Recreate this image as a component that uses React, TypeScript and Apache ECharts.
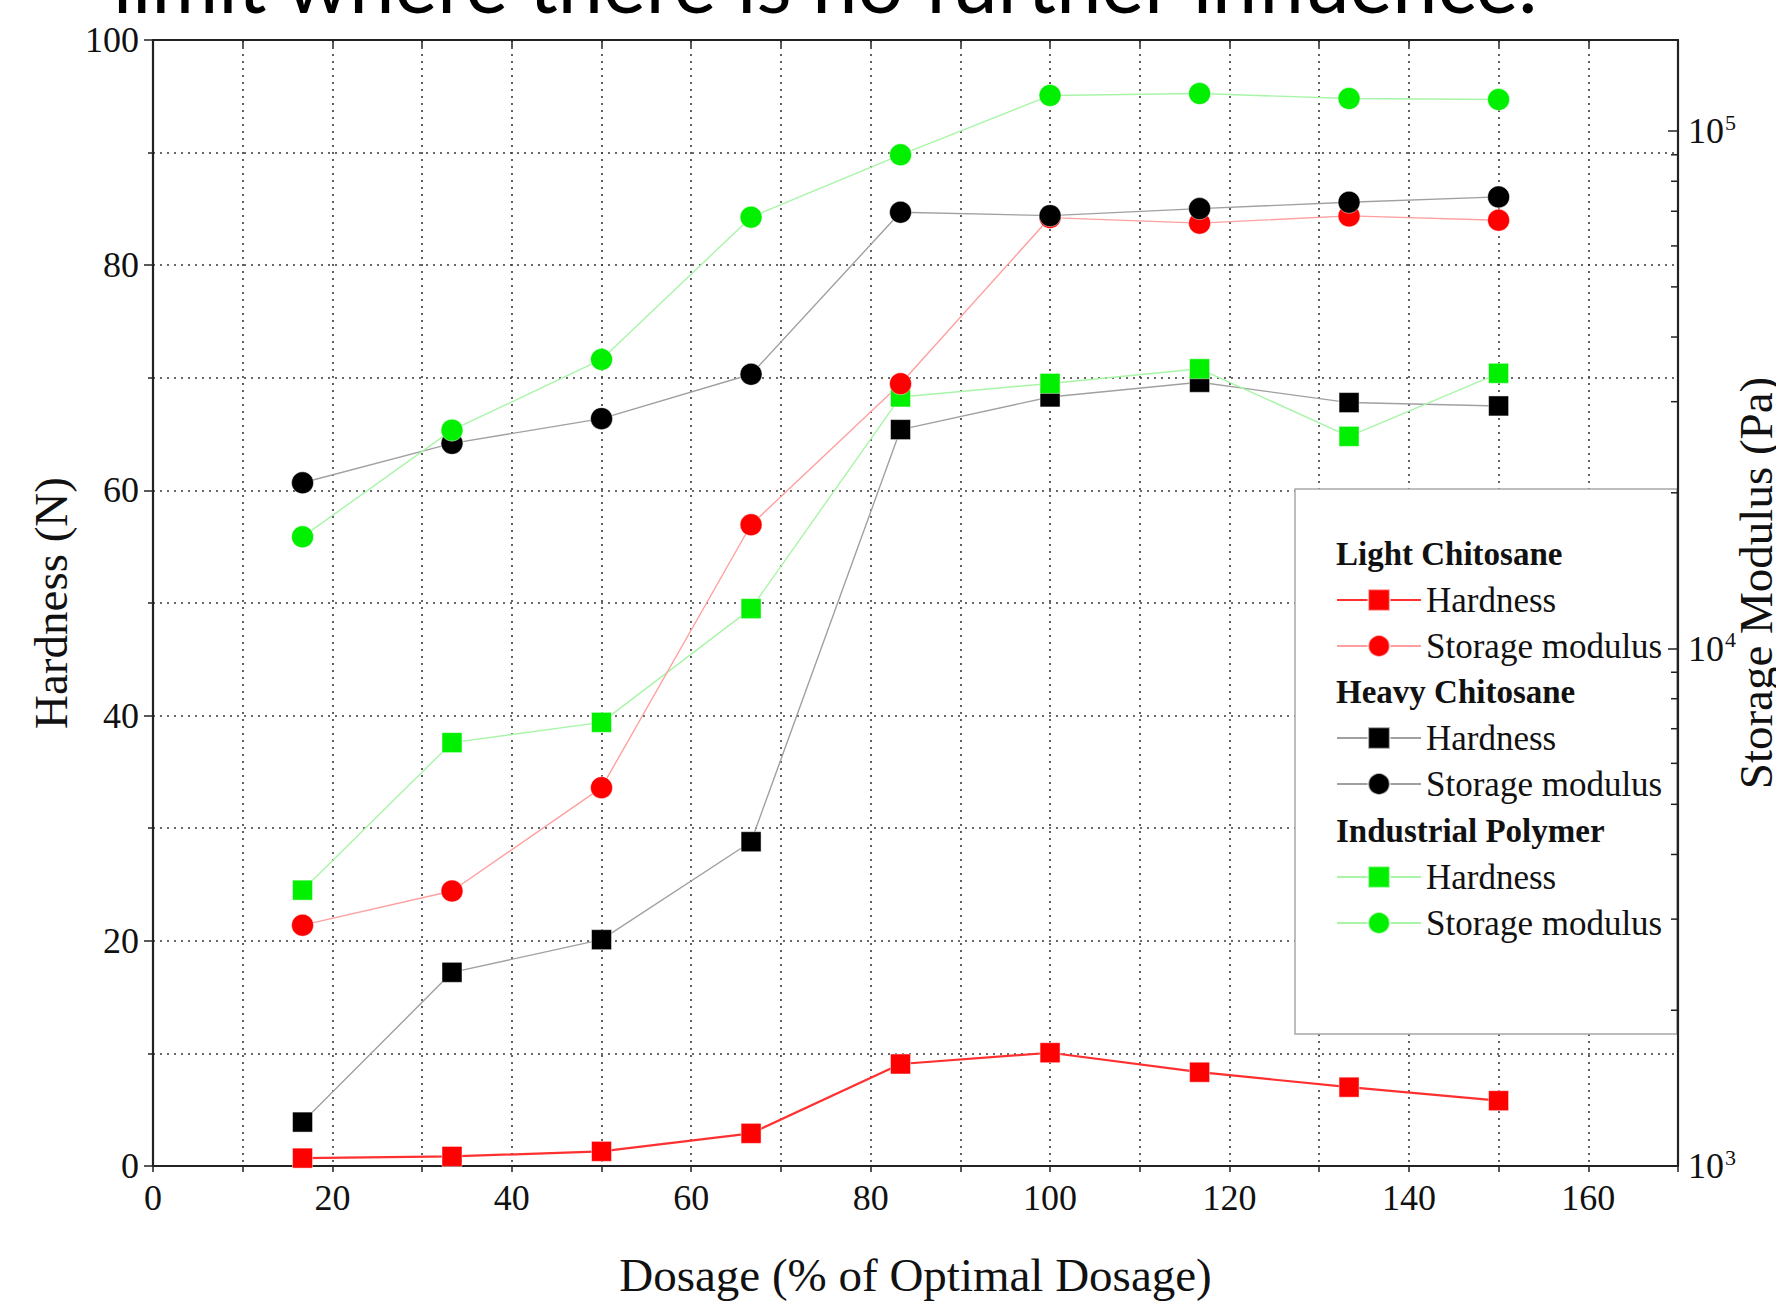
import React, { useEffect, useRef } from 'react';
import * as echarts from 'echarts';

// Dosage (% of optimal dosage)
const dosage = [16.67, 33.33, 50, 66.67, 83.33, 100, 116.67, 133.33, 150];

// Hardness (N) – left axis
const lightHardness = [0.7, 0.85, 1.3, 2.9, 9.06, 10.06, 8.33, 7.0, 5.8];
const heavyHardness = [3.9, 17.2, 20.1, 28.8, 65.4, 68.3, 69.6, 67.8, 67.5];
const industrialHardness = [24.5, 37.6, 39.4, 49.5, 68.3, 69.5, 70.8, 64.8, 70.4];

// Storage modulus (Pa) – right log axis
const lightStorage = [2920, 3400, 5385, 17350, 32500, 68060, 66390, 68570, 67280];
const heavyStorage = [20910, 24920, 27820, 33890, 69700, 68650, 70830, 72880, 74620];
const industrialStorage = [16440, 26430, 36200, 68190, 90000, 117200, 118200, 115600, 115100];

// Axis ranges and ticks
const xMin = 0;
const xMax = 170;
const hardnessMin = 0;
const hardnessMax = 100;
const storageMin = 1000;
const storageMax = 150000;
const storageMinorTicks = [
  2000, 3000, 4000, 5000, 6000, 7000, 8000, 9000,
  20000, 30000, 40000, 50000, 60000, 70000, 80000, 90000,
];

const topLine = 'limit where there is no further influence.';
const legendGroups = ['Light Chitosane', 'Heavy Chitosane', 'Industrial Polymer'];

const SERIF = "'Liberation Serif', 'Times New Roman', serif";

export default function App() {
  const ref = useRef<HTMLDivElement>(null);

  useEffect(() => {
    if (!ref.current) return;
    const chart = echarts.init(ref.current, null, { renderer: 'svg' });

    const gridLine = { color: '#3a3a3a', width: 1.6, type: [2, 5] as any };
    const axisColor = '#222';
    const pair = (ys: number[]) => dosage.map((x, i) => [x, ys[i]]);

    const mkSeries = (
      name: string,
      ys: number[],
      yAxisIndex: number,
      symbol: string,
      color: string,
      lineColor: string,
      lineWidth: number,
    ) => ({
      name,
      type: 'line',
      xAxisIndex: 0,
      yAxisIndex,
      data: pair(ys),
      symbol,
      symbolSize: symbol === 'rect' ? 20 : 22,
      showSymbol: true,
      itemStyle: { color, borderColor: 'rgba(255,255,255,0.6)', borderWidth: 0.8 },
      lineStyle: { color: lineColor, width: lineWidth },
      emphasis: { disabled: true },
      z: 3,
    });

    const legendFormatter = (name: string) => name.split(' – ')[1];
    const legendBase = {
      orient: 'vertical',
      left: 1336,
      padding: 0,
      itemGap: 0,
      itemWidth: 84,
      itemHeight: 27,
      selectedMode: false,
      formatter: legendFormatter,
      textStyle: { fontFamily: SERIF, fontSize: 35, lineHeight: 46, color: '#111' },
      z: 10,
    };

    const option: any = {
      animation: false,
      backgroundColor: '#ffffff',
      textStyle: { fontFamily: SERIF },
      grid: { left: 153, right: 98, top: 40, bottom: 135, containLabel: false },
      xAxis: [
        {
          type: 'value',
          min: xMin,
          max: xMax,
          interval: 10,
          position: 'bottom',
          axisLine: { show: true, onZero: false, lineStyle: { color: axisColor, width: 2.2 } },
          axisTick: { show: true, inside: false, length: 6, lineStyle: { color: axisColor, width: 1.5 } },
          axisLabel: {
            fontSize: 36,
            color: '#111',
            margin: 14,
            fontFamily: SERIF,
            formatter: (v: number) => (v % 20 === 0 && v < xMax ? String(v) : ''),
          },
          splitLine: { show: true, lineStyle: gridLine },
          name: 'Dosage (% of Optimal Dosage)',
          nameLocation: 'middle',
          nameGap: 85,
          nameTextStyle: { fontSize: 47, color: '#111', fontFamily: SERIF },
        },
        {
          type: 'value',
          min: xMin,
          max: xMax,
          interval: 10,
          position: 'top',
          axisLine: { show: true, onZero: false, lineStyle: { color: axisColor, width: 2.2 } },
          axisTick: { show: true, inside: true, length: 7, lineStyle: { color: axisColor, width: 1.5 } },
          axisLabel: { show: false },
          splitLine: { show: false },
        },
      ],
      yAxis: [
        {
          type: 'value',
          min: hardnessMin,
          max: hardnessMax,
          interval: 20,
          position: 'left',
          axisLine: { show: true, onZero: false, lineStyle: { color: axisColor, width: 2.2 } },
          axisTick: { show: true, inside: false, length: 9, lineStyle: { color: axisColor, width: 1.5 } },
          minorTick: { show: true, splitNumber: 2, length: 5, lineStyle: { color: axisColor, width: 1.5 } },
          axisLabel: { fontSize: 36, color: '#111', margin: 14, fontFamily: SERIF },
          splitLine: { show: true, lineStyle: gridLine },
          minorSplitLine: { show: true, lineStyle: gridLine },
          name: 'Hardness (N)',
          nameLocation: 'middle',
          nameGap: 74,
          nameTextStyle: { fontSize: 47, color: '#111', fontFamily: SERIF },
        },
        {
          type: 'log',
          logBase: 10,
          min: storageMin,
          max: storageMax,
          position: 'right',
          z: 5,
          axisLine: { show: true, onZero: false, lineStyle: { color: axisColor, width: 2.2 } },
          axisTick: { show: true, inside: true, length: 10, lineStyle: { color: axisColor, width: 1.5 } },
          axisLabel: {
            margin: 10,
            showMaxLabel: false,
            color: '#111',
            fontFamily: SERIF,
            formatter: (v: number) => `{b|10}{s|${Math.round(Math.log10(v))}}`,
            rich: {
              b: { fontSize: 36, fontFamily: SERIF, color: '#111' },
              s: { fontSize: 22, fontFamily: SERIF, color: '#111', verticalAlign: 'top', padding: [0, 0, 18, 1] },
            },
          },
          splitLine: { show: false },
        },
      ],
      legend: [
        { ...legendBase, top: 577, data: [`${legendGroups[0]} – Hardness`, `${legendGroups[0]} – Storage modulus`] },
        { ...legendBase, top: 715, data: [`${legendGroups[1]} – Hardness`, `${legendGroups[1]} – Storage modulus`] },
        { ...legendBase, top: 854, data: [`${legendGroups[2]} – Hardness`, `${legendGroups[2]} – Storage modulus`] },
      ],
      graphic: [
        {
          type: 'rect',
          z: 1,
          silent: true,
          shape: { x: 1295, y: 489, width: 382, height: 545 },
          style: { fill: '#ffffff', stroke: '#a8a8a8', lineWidth: 1.5 },
        },
        ...legendGroups.map((g, i) => ({
          type: 'text',
          z: 10,
          x: 1336,
          y: [554, 692, 831][i],
          style: {
            text: g,
            fontFamily: SERIF,
            fontWeight: 'bold',
            fontSize: 33,
            fill: '#111',
            textAlign: 'left',
            textVerticalAlign: 'middle',
          },
        })),
        {
          type: 'text',
          z: 10,
          x: 1756,
          y: 583,
          rotation: Math.PI / 2,
          style: {
            text: 'Storage Modulus (Pa)',
            fontFamily: SERIF,
            fontSize: 47,
            fill: '#111',
            textAlign: 'center',
            textVerticalAlign: 'middle',
          },
        },
        {
          type: 'text',
          z: 10,
          x: 113,
          y: -19,
          style: {
            text: topLine,
            fontFamily: 'Lato',
            fontSize: 81,
            fill: '#000',
            textAlign: 'left',
            textVerticalAlign: 'middle',
          },
        },
      ],
      series: [
        mkSeries(`${legendGroups[0]} – Hardness`, lightHardness, 0, 'rect', '#ff0000', '#ff3030', 2.2),
        mkSeries(`${legendGroups[1]} – Hardness`, heavyHardness, 0, 'rect', '#000000', '#a0a0a0', 1.4),
        mkSeries(`${legendGroups[2]} – Hardness`, industrialHardness, 0, 'rect', '#00f000', '#a8f5a8', 1.4),
        mkSeries(`${legendGroups[0]} – Storage modulus`, lightStorage, 1, 'circle', '#ff0000', '#ffa0a0', 1.4),
        mkSeries(`${legendGroups[1]} – Storage modulus`, heavyStorage, 1, 'circle', '#000000', '#a0a0a0', 1.4),
        mkSeries(`${legendGroups[2]} – Storage modulus`, industrialStorage, 1, 'circle', '#00f000', '#a8f5a8', 1.4),
        {
          name: 'storage minor ticks',
          type: 'custom',
          xAxisIndex: 0,
          yAxisIndex: 1,
          silent: true,
          z: 6,
          clip: false,
          data: storageMinorTicks.map((v) => [xMax, v]),
          renderItem: (_params: any, api: any) => {
            const p = api.coord([api.value(0), api.value(1)]);
            return {
              type: 'line',
              shape: { x1: p[0] - 7, y1: p[1], x2: p[0], y2: p[1] },
              style: { stroke: axisColor, lineWidth: 1.5 },
            };
          },
        },
      ],
    };

    chart.setOption(option);
    return () => chart.dispose();
  }, []);

  return (
    <div
      ref={ref}
      style={{ position: 'fixed', left: 0, top: 0, width: 1776, height: 1303, background: '#fff' }}
    />
  );
}
